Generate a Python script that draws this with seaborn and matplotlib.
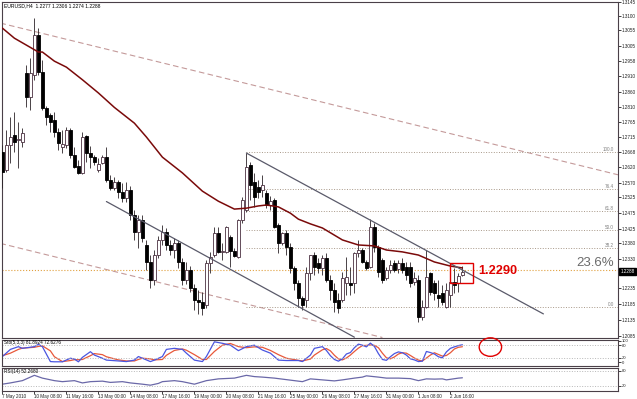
import numpy as np
import pandas as pd
import matplotlib
matplotlib.use('Agg')
import matplotlib.pyplot as plt
import matplotlib.transforms as mtransforms
from matplotlib.patches import Rectangle, Ellipse
import seaborn as sns

sns.set_theme(style='white')
plt.rcParams['font.family'] = ['Liberation Sans', 'DejaVu Sans']

# ---------------- data (EURUSD H4) ----------------
opens = [1.2668, 1.2611, 1.2690, 1.2722, 1.2706, 1.2700, 1.2919, 1.2843, 1.2913, 1.3040,
         1.2922, 1.2808, 1.2786, 1.2770, 1.2732, 1.2684, 1.2690, 1.2738, 1.2659, 1.2624,
         1.2602, 1.2719, 1.2665, 1.2652, 1.2611, 1.2633, 1.2652, 1.2579, 1.2554, 1.2573,
         1.2541, 1.2522, 1.2548, 1.2468, 1.2414, 1.2452, 1.2373, 1.2319, 1.2262, 1.2341,
         1.2389, 1.2414, 1.2373, 1.2357, 1.2379, 1.2319, 1.2262, 1.2293, 1.2236, 1.2198,
         1.2192, 1.2182, 1.2316, 1.2341, 1.2411, 1.2351, 1.2351, 1.2398, 1.2354, 1.2335,
         1.2452, 1.2484, 1.2627, 1.2573, 1.2557, 1.2548, 1.2538, 1.2500, 1.2516, 1.2436,
         1.2379, 1.2411, 1.2367, 1.2300, 1.2252, 1.2205, 1.2198, 1.2284, 1.2341, 1.2316,
         1.2300, 1.2332, 1.2262, 1.2230, 1.2198, 1.2198, 1.2252, 1.2252, 1.2252, 1.2347,
         1.2357, 1.2319, 1.2303, 1.2430, 1.2367, 1.2325, 1.2268, 1.2293, 1.2316, 1.2297,
         1.2316, 1.2303, 1.2303, 1.2255, 1.2262, 1.2144, 1.2176, 1.2284, 1.2252, 1.2214,
         1.2220, 1.2176, 1.2214, 1.2255, 1.2252, 1.2277]
highs = [1.2690, 1.2738, 1.2779, 1.2795, 1.2764, 1.2744, 1.2945, 1.2967, 1.3094, 1.3062,
         1.2960, 1.2814, 1.2792, 1.2795, 1.2744, 1.2738, 1.2748, 1.2744, 1.2684, 1.2643,
         1.2732, 1.2722, 1.2687, 1.2659, 1.2649, 1.2659, 1.2684, 1.2595, 1.2589, 1.2579,
         1.2570, 1.2573, 1.2560, 1.2484, 1.2468, 1.2468, 1.2389, 1.2341, 1.2357, 1.2401,
         1.2436, 1.2427, 1.2389, 1.2395, 1.2389, 1.2332, 1.2319, 1.2306, 1.2249, 1.2230,
         1.2224, 1.2325, 1.2351, 1.2430, 1.2430, 1.2379, 1.2433, 1.2405, 1.2363, 1.2455,
         1.2525, 1.2665, 1.2636, 1.2602, 1.2579, 1.2595, 1.2548, 1.2529, 1.2522, 1.2443,
         1.2414, 1.2421, 1.2379, 1.2306, 1.2262, 1.2211, 1.2303, 1.2341, 1.2351, 1.2332,
         1.2341, 1.2347, 1.2278, 1.2252, 1.2220, 1.2287, 1.2335, 1.2303, 1.2351, 1.2389,
         1.2363, 1.2325, 1.2455, 1.2443, 1.2373, 1.2332, 1.2303, 1.2325, 1.2325, 1.2325,
         1.2332, 1.2319, 1.2319, 1.2287, 1.2278, 1.2198, 1.2357, 1.2287, 1.2262, 1.2262,
         1.2246, 1.2252, 1.2284, 1.2300, 1.2284, 1.2306]
lows = [1.2555, 1.2605, 1.2633, 1.2668, 1.2617, 1.2684, 1.2811, 1.2802, 1.2897, 1.2913,
        1.2802, 1.2754, 1.2732, 1.2716, 1.2675, 1.2665, 1.2681, 1.2649, 1.2617, 1.2598,
        1.2598, 1.2636, 1.2617, 1.2627, 1.2605, 1.2630, 1.2573, 1.2548, 1.2548, 1.2522,
        1.2509, 1.2509, 1.2452, 1.2389, 1.2363, 1.2382, 1.2293, 1.2236, 1.2246, 1.2332,
        1.2373, 1.2357, 1.2341, 1.2332, 1.2300, 1.2246, 1.2249, 1.2224, 1.2166, 1.2154,
        1.2151, 1.2173, 1.2284, 1.2335, 1.2347, 1.2325, 1.2347, 1.2303, 1.2335, 1.2332,
        1.2443, 1.2478, 1.2516, 1.2494, 1.2522, 1.2525, 1.2490, 1.2484, 1.2427, 1.2347,
        1.2373, 1.2341, 1.2284, 1.2230, 1.2176, 1.2166, 1.2176, 1.2262, 1.2278, 1.2284,
        1.2278, 1.2255, 1.2198, 1.2160, 1.2157, 1.2192, 1.2214, 1.2214, 1.2220, 1.2335,
        1.2316, 1.2293, 1.2300, 1.2351, 1.2271, 1.2252, 1.2262, 1.2284, 1.2287, 1.2284,
        1.2284, 1.2262, 1.2239, 1.2246, 1.2128, 1.2135, 1.2173, 1.2214, 1.2198, 1.2176,
        1.2182, 1.2173, 1.2176, 1.2220, 1.2224, 1.2274]
closes = [1.2605, 1.2690, 1.2716, 1.2700, 1.2710, 1.2729, 1.2843, 1.2919, 1.3040, 1.2922,
          1.2808, 1.2779, 1.2764, 1.2732, 1.2697, 1.2694, 1.2738, 1.2659, 1.2621, 1.2602,
          1.2716, 1.2665, 1.2652, 1.2636, 1.2630, 1.2652, 1.2579, 1.2554, 1.2573, 1.2541,
          1.2522, 1.2548, 1.2468, 1.2414, 1.2452, 1.2395, 1.2319, 1.2262, 1.2341, 1.2389,
          1.2414, 1.2373, 1.2357, 1.2379, 1.2319, 1.2262, 1.2293, 1.2236, 1.2198, 1.2192,
          1.2173, 1.2316, 1.2335, 1.2411, 1.2351, 1.2354, 1.2430, 1.2354, 1.2338, 1.2452,
          1.2516, 1.2621, 1.2563, 1.2525, 1.2541, 1.2563, 1.2500, 1.2513, 1.2430, 1.2379,
          1.2411, 1.2367, 1.2300, 1.2252, 1.2205, 1.2182, 1.2284, 1.2341, 1.2303, 1.2300,
          1.2332, 1.2262, 1.2230, 1.2192, 1.2173, 1.2268, 1.2271, 1.2246, 1.2347, 1.2357,
          1.2319, 1.2300, 1.2430, 1.2367, 1.2287, 1.2262, 1.2293, 1.2309, 1.2293, 1.2316,
          1.2293, 1.2278, 1.2252, 1.2268, 1.2144, 1.2176, 1.2271, 1.2224, 1.2220, 1.2205,
          1.2192, 1.2230, 1.2255, 1.2246, 1.2274, 1.2288]

ma_idx = [0, 3, 6, 9, 10, 13, 16, 20, 24, 28, 33, 36, 40, 45, 50, 54, 58, 61, 64, 66,
          69, 72, 74, 77, 80, 85, 89, 93, 96, 100, 104, 108, 112, 115]
ma_val = [1.3062, 1.3030, 1.3008, 1.2986, 1.2986, 1.2957, 1.2938, 1.2898, 1.2856, 1.2810,
          1.2760, 1.2716, 1.2652, 1.2602, 1.2544, 1.2512, 1.2487, 1.2490, 1.2497, 1.2500,
          1.2494, 1.2474, 1.2455, 1.2440, 1.2427, 1.2389, 1.2373, 1.2370, 1.2357, 1.2351,
          1.2341, 1.2319, 1.2306, 1.2300]

stoch_idx = [0, 2, 4, 5, 8, 9, 10, 12, 13, 15, 17, 18, 19, 20, 22, 23, 25, 26, 29, 31,
             33, 34, 35, 37, 38, 40, 41, 43, 45, 46, 48, 50, 51, 53, 55, 57, 59, 61, 63, 65,
             67, 69, 71, 74, 75, 77, 78, 80, 81, 82, 83, 84, 85, 86, 87, 88, 89, 90, 91, 92,
             93, 94, 95, 96, 97, 98, 99, 100, 101, 102, 103, 104, 105, 106, 107, 108, 109,
             110, 111, 112, 113, 114, 115]
stoch_k = [26, 60, 73, 65, 73, 84, 73, 2, 1, 1, 18, 14, 1, 22, 49, 33, 18, 9, 5, 2,
           9, 26, 18, 2, 9, 26, 60, 65, 60, 42, 9, 2, 26, 96, 89, 80, 54, 73, 80, 57,
           42, 9, 7, 7, 2, 33, 65, 73, 55, 30, 12, 4, 15, 38, 45, 68, 85, 80, 72, 90,
           74, 40, 12, 8, 25, 40, 48, 44, 33, 15, 10, 2, 4, 50, 45, 38, 25, 20, 48, 65,
           72, 78, 81.89]
stoch_d = [30, 42, 60, 66, 70, 74, 77, 53, 25, 2, 7, 11, 11, 12, 30, 40, 35, 25, 10, 5,
           5, 12, 18, 15, 10, 12, 32, 55, 62, 56, 35, 12, 12, 50, 80, 88, 73, 68, 72, 70,
           55, 35, 18, 8, 5, 14, 33, 58, 64, 53, 32, 15, 10, 19, 33, 50, 66, 78, 79, 81,
           79, 68, 42, 20, 15, 24, 38, 44, 42, 31, 19, 9, 5, 19, 33, 44, 36, 28, 31, 44,
           62, 70, 72.63]

rsi_idx = [0, 2, 5, 8, 10, 13, 15, 18, 20, 22, 25, 27, 30, 32, 35, 37, 39, 40, 43, 45,
           48, 51, 54, 58, 61, 63, 65, 68, 70, 73, 75, 77, 80, 83, 85, 88, 90, 91, 94, 96,
           99, 102, 104, 106, 108, 110, 111, 114, 115]
rsi_val = [27, 32, 41, 62, 51, 41, 37, 41, 32, 37, 39, 34, 37, 32, 27, 23, 30, 37, 41, 37,
           27, 41, 48, 51, 62, 57, 55, 51, 47, 41, 37, 48, 44, 40, 44, 51, 55, 60, 55, 51,
           51, 49, 41, 48, 47, 48, 44, 51, 52.27]

price_ticks = [1.3145, 1.3100, 1.3055, 1.3005, 1.2958, 1.2910, 1.2860, 1.2810, 1.2765,
               1.2715, 1.2668, 1.2620, 1.2570, 1.2525, 1.2475, 1.2425, 1.2380, 1.2330,
               1.2235, 1.2185, 1.2135, 1.2085]
last_price = 1.2288

date_idx = [0, 8, 16, 24, 32, 40, 48, 56, 64, 72, 80, 88, 96, 104, 112]
date_labels = ['7 May 2010', '10 May 08:00', '11 May 16:00', '13 May 00:00', '14 May 08:00',
               '17 May 16:00', '19 May 00:00', '20 May 08:00', '21 May 16:00', '25 May 00:00',
               '26 May 08:00', '27 May 16:00', '31 May 00:00', '1 Jun 08:00', '2 Jun 16:00']

fib_high = 1.2668
fib_low = 1.2176
fib_start = 61
fib_levels = [100.0, 76.4, 61.8, 50.0, 38.2, 0.0]
fib_labels = ['100.0', '76.4', '61.8', '50.0', '38.2', '0.0']
fib_key_level = 23.6

chan_upper = ([61, 135.25], [1.2665, 1.2154])
chan_lower = ([26, 88], [1.2511, 1.2080])
dash_upper = ([-0.5, 153.9], [1.3078, 1.2596])
dash_lower = ([-0.5, 95], [1.2378, 1.2079])

# ---------------- layout ----------------
W, H = 637, 399
fig = plt.figure(figsize=(W / 100, H / 100), dpi=100)
fig.patch.set_facecolor('white')


def box(l, t, r, b):
    return [l / W, 1 - b / H, (r - l) / W, (b - t) / H]


ax = fig.add_axes(box(2, 2, 618, 337.5))
axs = fig.add_axes(box(2, 339.5, 618, 366), sharex=ax)
axr = fig.add_axes(box(2, 367.5, 618, 390.5), sharex=ax)

XMIN, XMAX = -0.1, 153.9
frame_col = '#4a4048'
small = 3.3

for a in (ax, axs, axr):
    a.set_facecolor('white')
    for sp in a.spines.values():
        sp.set_color(frame_col)
        sp.set_linewidth(0.8)
    a.grid(False)

# ---------------- candles ----------------
o = np.array(opens); h = np.array(highs); l = np.array(lows); c = np.array(closes)
idx = np.arange(len(o))
up = c >= o
edge = '#2c2428'
ax.vlines(idx, l, h, color=edge, lw=0.6, zorder=3)
ax.bar(idx[up], c[up] - o[up], bottom=o[up], width=0.72, color='white',
       edgecolor='#4a3040', linewidth=0.6, zorder=4)
ax.bar(idx[~up], o[~up] - c[~up], bottom=c[~up], width=0.72, color='black',
       edgecolor='black', linewidth=0.6, zorder=4)

# moving average
ma_df = pd.DataFrame({'bar': ma_idx, 'ma': ma_val})
sns.lineplot(data=ma_df, x='bar', y='ma', ax=ax, color='#7a0a0a', lw=1.1,
             estimator=None, sort=False, zorder=5)

# trend / channel lines
ax.plot(*chan_upper, color='#5a5a6a', lw=0.9, zorder=5)
ax.plot(*chan_lower, color='#5a5a6a', lw=0.9, zorder=5)
ax.plot(*dash_upper, color='#c49a9a', lw=0.8, ls=(0, (5, 3)), zorder=2)
ax.plot(*dash_lower, color='#c49a9a', lw=0.8, ls=(0, (5, 3)), zorder=2)

# fibonacci levels
rng = fib_high - fib_low
for lv, lab in zip(fib_levels, fib_labels):
    p = fib_low + rng * lv / 100
    ax.hlines(p, fib_start, XMAX, colors='#a89888', linestyles=':', lw=0.7, zorder=2)
    ax.text(152.9, p, lab, fontsize=small, color='#808080', ha='right', va='bottom', zorder=6)
key_p = fib_low + rng * fib_key_level / 100
ax.hlines(key_p, XMIN, XMAX, colors='#e0a040', linestyles=':', lw=0.8, zorder=2)
ax.text(152.8, key_p + 0.0003, '23.6%', fontsize=9.5, color='#6a6a6a', ha='right',
        va='bottom', zorder=6)

# annotation box + price text
ax.add_patch(Rectangle((112, 1.2252), 5.75, 0.0064, fill=False, ec='#e00000', lw=1, zorder=7))
ax.text(118.9, 1.2290, '1.2290', fontsize=9.2, fontweight='bold', color='#e00000',
        ha='left', va='center', zorder=7)

ax.set_xlim(XMIN, XMAX)
ax.set_ylim(1.2079, 1.3145)
ax.set_xlabel(''); ax.set_ylabel('')
ax.yaxis.tick_right()
ax.set_yticks(price_ticks)
ax.set_yticklabels([f'{v:.4f}' for v in price_ticks])
ax.tick_params(axis='y', right=True, left=False, labelright=True, labelleft=False,
               labelsize=small, length=2, width=0.6, pad=1, colors='#202020')
ax.tick_params(axis='x', bottom=False, labelbottom=False)
trans = mtransforms.blended_transform_factory(ax.transAxes, ax.transData)
ax.text(1.004, last_price, f'{last_price:.4f}', transform=trans, fontsize=small,
        color='white', ha='left', va='center', clip_on=False,
        bbox=dict(boxstyle='square,pad=0.25', fc='black', ec='black'))
ax.text(0.004, 0.995, 'EURUSD,H4  1.2277 1.2306 1.2274 1.2288', transform=ax.transAxes,
        fontsize=3.6, color='black', ha='left', va='top')

# ---------------- stochastic ----------------
st_df = pd.DataFrame({'bar': stoch_idx, 'k': stoch_k, 'd': stoch_d})
sns.lineplot(data=st_df, x='bar', y='d', ax=axs, color='#e8583a', lw=0.9,
             estimator=None, sort=False)
sns.lineplot(data=st_df, x='bar', y='k', ax=axs, color='#4a55e0', lw=0.9,
             estimator=None, sort=False)
for lv in (80, 20):
    axs.axhline(lv, color='#b8b8b8', ls=':', lw=0.7)
axs.set_ylim(-19, 107)
axs.set_xlabel(''); axs.set_ylabel('')
axs.yaxis.tick_right()
axs.set_yticks([0, 20, 80, 100])
axs.set_yticklabels(['0', '20', '80', '100'])
axs.tick_params(axis='y', right=True, left=False, labelright=True, labelleft=False,
                labelsize=small - 0.3, length=2, width=0.6, pad=1, colors='#202020')
axs.tick_params(axis='x', bottom=False, labelbottom=False)
axs.text(0.004, 0.97, 'Sto(5,3,3) 81.8924 72.6276', transform=axs.transAxes,
         fontsize=small, color='black', ha='left', va='top')
axs.add_patch(Ellipse((122, 71), 5.6, 88, fill=False, ec='#e00000', lw=1, clip_on=False,
                      zorder=8))

# ---------------- RSI ----------------
rsi_df = pd.DataFrame({'bar': rsi_idx, 'rsi': rsi_val})
sns.lineplot(data=rsi_df, x='bar', y='rsi', ax=axr, color='#6a68a8', lw=0.9,
             estimator=None, sort=False)
for lv in (80, 20):
    axr.axhline(lv, color='#b8b8b8', ls=':', lw=0.7)
axr.set_ylim(2, 93)
axr.set_ylabel('')
axr.yaxis.tick_right()
axr.set_yticks([20, 80])
axr.set_yticklabels(['20', '80'])
axr.tick_params(axis='y', right=True, left=False, labelright=True, labelleft=False,
                labelsize=small - 0.3, length=2, width=0.6, pad=1, colors='#202020')
axr.text(0.004, 0.95, 'RSI(14) 52.2680', transform=axr.transAxes,
         fontsize=small, color='black', ha='left', va='top')
axr.set_xticks(date_idx)
axr.set_xticklabels(date_labels, ha='left')
axr.tick_params(axis='x', bottom=True, labelbottom=True, labelsize=small, length=2,
                width=0.6, pad=0.5, colors='#202020')
axr.set_xlabel('')
axr.set_xlim(XMIN, XMAX)

fig.savefig('out.png', dpi=100, facecolor='white')
